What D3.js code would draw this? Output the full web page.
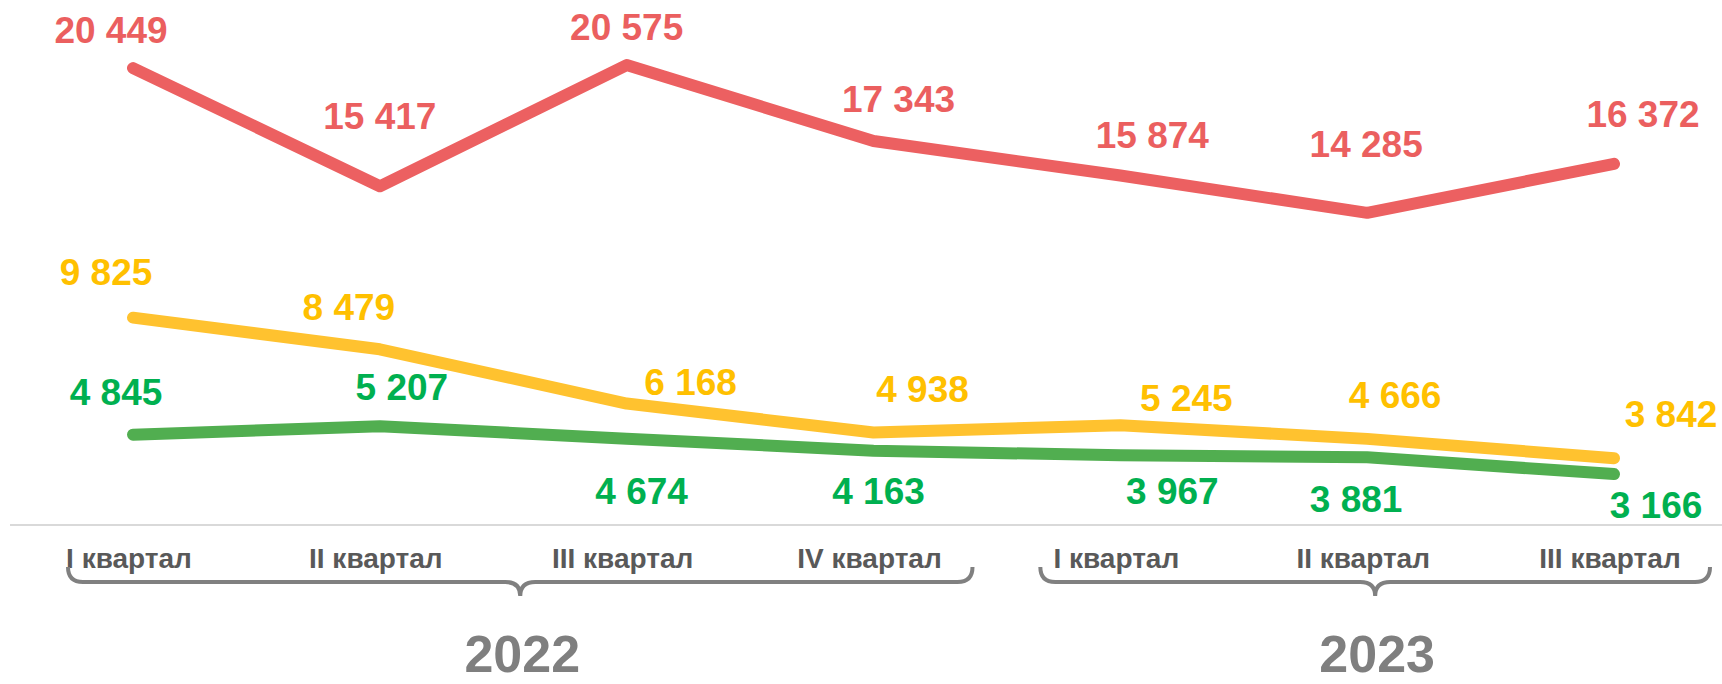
<!DOCTYPE html>
<html>
<head>
<meta charset="utf-8">
<script src="https://cdn.jsdelivr.net/npm/d3@7"></script>
<style>
html,body{margin:0;padding:0;background:#fff;}
svg{display:block;}
text{font-family:"Liberation Sans",Arial,sans-serif;font-weight:bold;}
</style>
</head>
<body>
<svg id="chart" width="1722" height="684"></svg>
<script>
// ---- data ----
const categories = ["I квартал","II квартал","III квартал","IV квартал","I квартал","II квартал","III квартал"];
const years = ["2022","2023"];
const yearSpans = [[0,3],[4,6]];
const seriesRed = [20449,15417,20575,17343,15874,14285,16372];
const seriesYellow = [9825,8479,6168,4938,5245,4666,3842];
const seriesGreen = [4845,5207,4674,4163,3967,3881,3166];

// ---- label placement (offsets from each point) ----
const redLabelDx = [-22,0,0,25,32,-1,29];
const redLabelDy = [-25,-57,-25,-29,-28,-56,-37];
const yellowLabelDx = [-27,-31,64,49,66,28,57];
const yellowLabelDy = [-33,-29,-9,-30,-14,-31,-31];
const greenLabelDx = [-17,22,15,5,52,-11,42];
const greenLabelDy = [-30,-26,65,53,49,55,44];
// brace overhang beyond first/last category of each year
const braceLeftPad = [65,80];
const braceRightPad = [99,96];

const svg = d3.select("#chart");
const W = 1722, H = 684;

const x = d3.scalePoint().domain(d3.range(categories.length)).range([133,1614]);
const y = d3.scaleLinear().domain([1000,22000]).range([525,31.6]);

const fmt = d3.formatLocale({decimal:",",thousands:"\u00a0",grouping:[3],currency:["",""]}).format(",d");

// axis baseline
svg.append("line").attr("x1",10).attr("x2",W).attr("y1",y(1000)).attr("y2",y(1000))
  .attr("stroke","#d9d9d9").attr("stroke-width",2);

const series = [
  {values:seriesRed, line:"#ec6061", label:"#eb5f5f", dx:redLabelDx, dy:redLabelDy},
  {values:seriesYellow, line:"#ffc22f", label:"#ffc000", dx:yellowLabelDx, dy:yellowLabelDy},
  {values:seriesGreen, line:"#51ae50", label:"#00b050", dx:greenLabelDx, dy:greenLabelDy}
];

const line = d3.line().x((d,i)=>x(i)).y(d=>y(d));

// draw green first, then yellow, then red
[series[2],series[1],series[0]].forEach(s=>{
  svg.append("path").datum(s.values).attr("d",line)
    .attr("fill","none").attr("stroke",s.line).attr("stroke-width",12)
    .attr("stroke-linecap","round").attr("stroke-linejoin","round");
});

series.forEach(s=>{
  svg.append("g").selectAll("text").data(s.values).join("text")
    .attr("x",(d,i)=>x(i)+s.dx[i])
    .attr("y",(d,i)=>y(d)+s.dy[i])
    .attr("text-anchor","middle")
    .attr("font-size",37)
    .attr("fill",s.label)
    .text(d=>fmt(d));
});

// category labels
svg.append("g").selectAll("text").data(categories).join("text")
  .attr("x",(d,i)=>x(i)-4)
  .attr("y",568)
  .attr("text-anchor","middle")
  .attr("font-size",28)
  .attr("fill","#595959")
  .text(d=>d);

// braces
const braceTop = 567, braceY = 582, tipY = 596, r = 15;
yearSpans.forEach((sp,k)=>{
  const l = x(sp[0]) - braceLeftPad[k], rr = x(sp[1]) + braceRightPad[k];
  const m = (l+rr)/2;
  const p = `M${l},${braceTop} Q${l},${braceY} ${l+r},${braceY} L${m-r},${braceY} Q${m},${braceY} ${m},${tipY} Q${m},${braceY} ${m+r},${braceY} L${rr-r},${braceY} Q${rr},${braceY} ${rr},${braceTop}`;
  svg.append("path").attr("d",p).attr("fill","none").attr("stroke","#808080").attr("stroke-width",4);
  svg.append("text").attr("x",m+2).attr("y",672).attr("text-anchor","middle")
    .attr("font-size",52).attr("fill","#7f7f7f").text(years[k]);
});
</script>
</body>
</html>
